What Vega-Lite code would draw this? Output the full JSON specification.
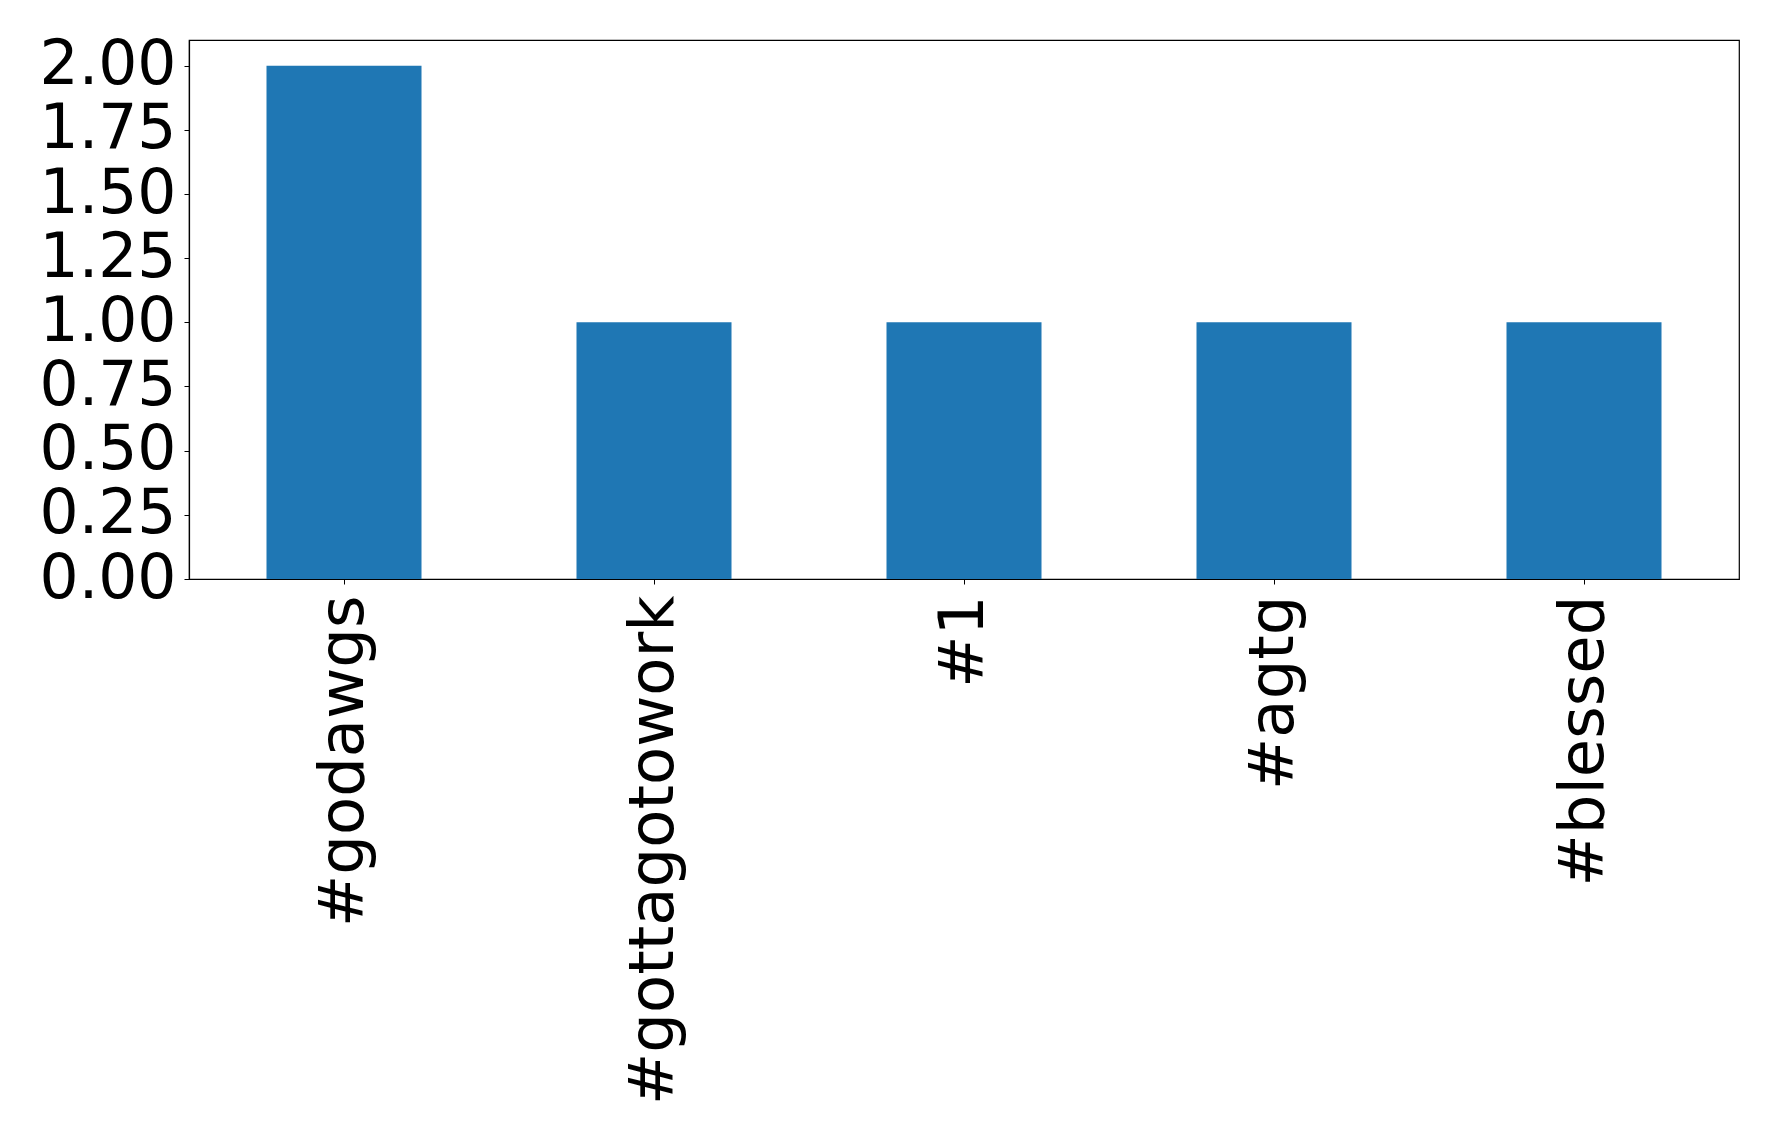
{
  "$schema": "https://vega.github.io/schema/vega-lite/v6.json",
  "autosize": "none",
  "width": 1550,
  "height": 539,
  "padding": {"left": 189, "top": 40, "right": 39, "bottom": 559},
  "background": "white",
  "config": {
    "view": {"stroke": "black", "strokeWidth": 1.2},
    "font": "DejaVu Sans",
    "axis": {
      "labelFont": "DejaVu Sans",
      "labelColor": "black",
      "domainColor": "black",
      "tickColor": "black",
      "grid": false,
      "title": null
    }
  },
  "data": {
    "values": [
      {"tag": "#godawgs", "count": 2},
      {"tag": "#gottagotowork", "count": 1},
      {"tag": "#1", "count": 1},
      {"tag": "#agtg", "count": 1},
      {"tag": "#blessed", "count": 1}
    ]
  },
  "mark": {"type": "bar", "color": "#1f77b4"},
  "encoding": {
    "x": {
      "field": "tag",
      "type": "nominal",
      "sort": null,
      "scale": {"paddingInner": 0.5, "paddingOuter": 0.25},
      "axis": {"labelAngle": -90, "labelFontSize": 62.5, "labelPadding": 11, "tickSize": 5, "labelLimit": 0, "domainWidth": 1.2}
    },
    "y": {
      "field": "count",
      "type": "quantitative",
      "scale": {"domain": [0, 2.1], "nice": false},
      "axis": {"values": [0, 0.25, 0.5, 0.75, 1, 1.25, 1.5, 1.75, 2], "format": ".2f", "labelFontSize": 61.5, "tickSize": 5, "labelPadding": 8, "domainWidth": 1.2}
    }
  }
}
